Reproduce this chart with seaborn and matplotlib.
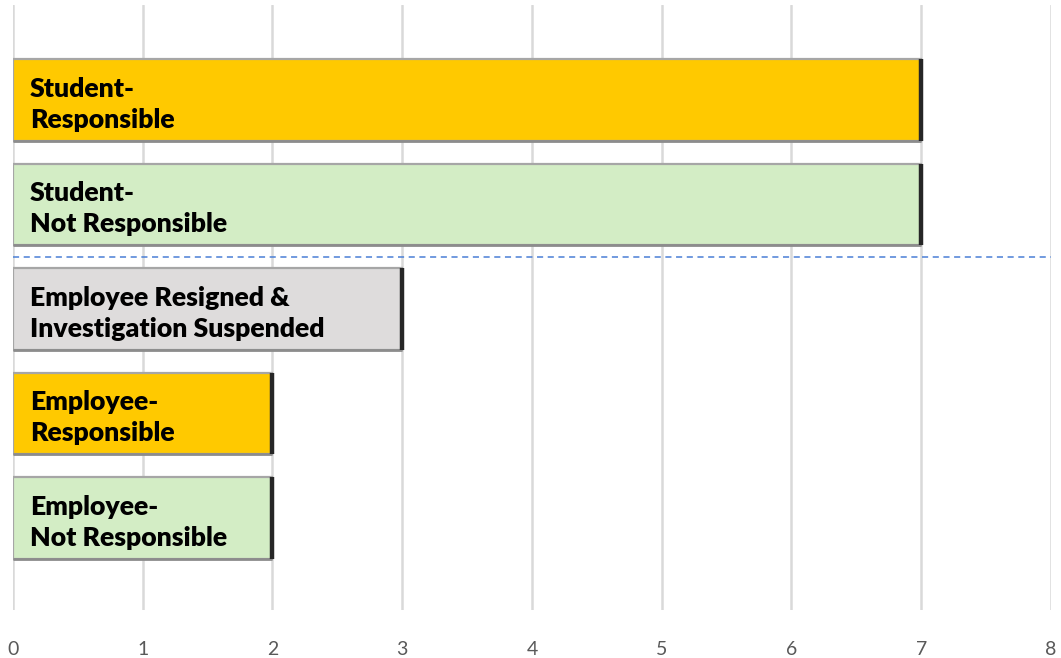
import matplotlib
matplotlib.use("Agg")
import matplotlib.pyplot as plt
import seaborn as sns
import pandas as pd

# Case outcomes and counts
categories = [
    "Student-\nResponsible",
    "Student-\nNot Responsible",
    "Employee Resigned &\nInvestigation Suspended",
    "Employee-\nResponsible",
    "Employee-\nNot Responsible",
]
counts = [7, 7, 3, 2, 2]
bar_colors = ["#FFC900", "#D3EDC5", "#DEDCDC", "#FFC900", "#D3EDC5"]
x_ticks = [0, 1, 2, 3, 4, 5, 6, 7, 8]

df = pd.DataFrame({"category": categories, "count": counts})

sns.set_theme(style="white")
plt.rcParams["font.family"] = ["Lato", "DejaVu Sans"]

fig = plt.figure(figsize=(10.61, 6.58), dpi=100)
ax = fig.add_axes([0.01225, 0.0729, 0.9783, 0.9195])

sns.barplot(
    data=df, y="category", x="count", hue="category",
    palette=bar_colors, saturation=1, dodge=False, legend=False, width=0.78,
    edgecolor="#A6A6A6", linewidth=1.6, ax=ax, orient="h", zorder=3,
)

# darker shadow on the right end and bottom of each bar
for bar, c in zip(ax.patches, counts):
    y0 = bar.get_y()
    h = bar.get_height()
    ax.plot([bar.get_x(), c], [y0 + h, y0 + h], color="#8C8C8C", lw=2.0,
            zorder=4, solid_capstyle="butt")
    ax.plot([c, c], [y0, y0 + h], color="#262626", lw=3.2, zorder=4,
            solid_capstyle="butt")

# labels inside bars
for i, cat in enumerate(categories):
    ax.text(0.13, i + 0.04, cat, ha="left", va="center", fontsize=19.2,
            fontweight="heavy", color="black", linespacing=1.36, zorder=5)

# separator between student and employee groups
ax.axhline(1.5, color="#4A7FD6", lw=1.1, ls=(0, (4, 3)), zorder=2)

ax.set_xlim(0, 8)
ax.set_ylim(4.88, -0.91)
ax.set_xticks(x_ticks)
ax.set_yticks([])
ax.set_xlabel("")
ax.set_ylabel("")
ax.xaxis.grid(True, color="#D9D9D9", lw=1.8, zorder=0)
ax.set_axisbelow(True)
for s in ax.spines.values():
    s.set_visible(False)
ax.tick_params(axis="x", length=0, pad=22, labelsize=14, labelcolor="#595959")

fig.savefig("out.png", dpi=100, facecolor="white")
